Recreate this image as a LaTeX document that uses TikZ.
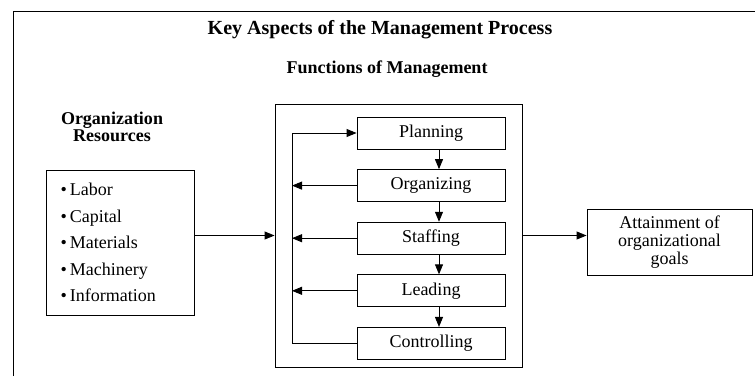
\documentclass[tikz,border=0pt]{standalone}
\usepackage{fontspec}
\setmainfont{Liberation Serif}
\usetikzlibrary{arrows.meta}
\begin{document}
\begin{tikzpicture}[x=1pt,y=-1pt,line width=0.9pt,>={Triangle[length=10pt,width=8pt]},
        every node/.style={font=\fontsize{18}{18}\selectfont},
        funcbox/.style={draw,minimum width=148,minimum height=32,inner sep=0pt}]
        \useasboundingbox (0,0) rectangle (755,376);
        \draw (13,376) -- (13,11) -- (755,11);
        \node (title) at (380,30) {\fontsize{20}{20}\selectfont\bfseries Key Aspects of the Management Process};
        \node (funclbl) at (387,69) {\bfseries Functions of Management};
        \node[align=center,font=\fontsize{18}{17}\selectfont\bfseries] (reslbl) at (112,127) {Organization\\Resources};
        \node[draw,text width=120,align=left,inner xsep=14,minimum height=145,font=\fontsize{18}{26.5}\selectfont] (res) at (120.5,242.5)
            {\textbullet\,Labor\\\textbullet\,Capital\\\textbullet\,Materials\\\textbullet\,Machinery\\\textbullet\,Information};
        \node[draw,minimum width=247,minimum height=263] (funcs) at (398.5,235.5) {};
        \foreach \name/\lbl [count=\i from 0] in {plan/Planning,org/Organizing,staff/Staffing,lead/Leading,ctrl/Controlling}
            \node[funcbox] (\name) at (431,{133+52.6*\i}) {\lbl};
        \foreach \a/\b in {plan/org,org/staff,staff/lead,lead/ctrl}
            \draw[->] ([xshift=8]\a.south) -- ([xshift=8]\b.north);
        \coordinate (fbtop) at (292,133);
        \draw[->] (ctrl.west) -| (fbtop) -- (plan.west);
        \foreach \n in {org,staff,lead}
            \draw[->] (\n.west) -- (\n.west -| fbtop);
        \node[draw,minimum width=165,minimum height=66,align=center] (goal) at (669.5,242) {Attainment of\\organizational\\goals};
        \draw[->] (res.east |- funcs.west) -- (funcs.west);
        \draw[->] (funcs.east) -- (funcs.east -| goal.west);
    \end{tikzpicture}
\end{document}
